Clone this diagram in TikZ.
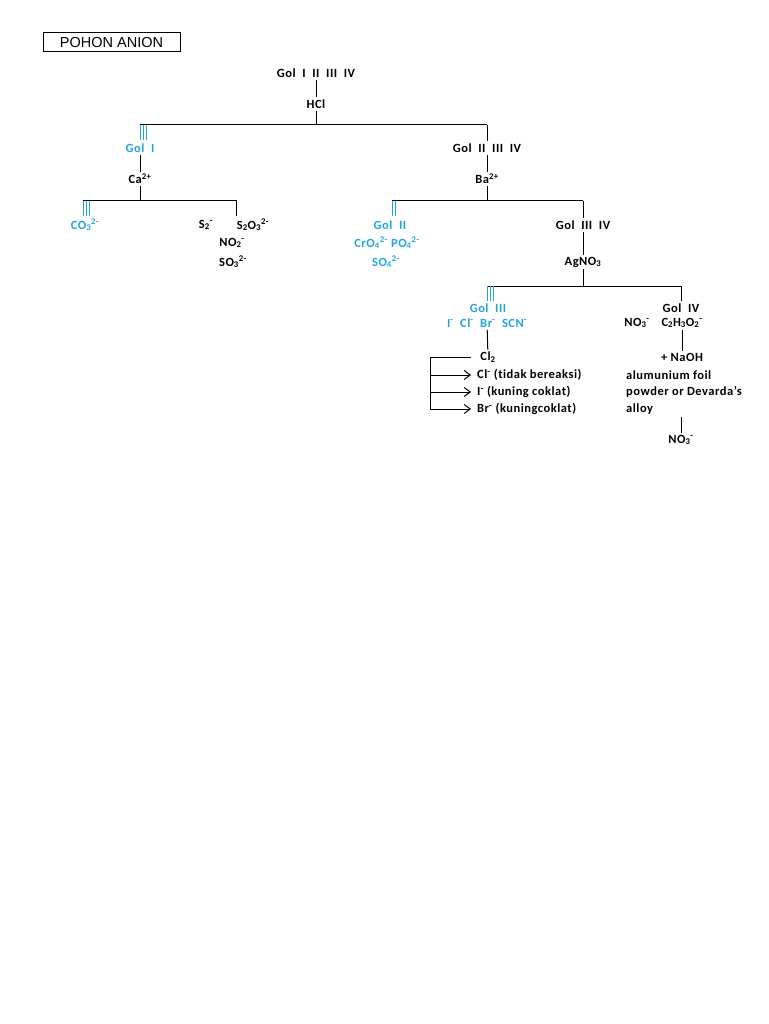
\documentclass[tikz,border=0pt]{standalone}
\usepackage{fontspec}
\setmainfont{Carlito}[Ligatures={NoCommon}, LetterSpace=4]
\newfontfamily\titlefont{Liberation Sans}
\usetikzlibrary{arrows.meta,positioning}
\definecolor{golblue}{RGB}{35,165,220}
\tikzset{
  lbl/.style={font=\bfseries\fontsize{12.5}{14}\selectfont, inner sep=2pt, text=black},
  gollbl/.style={lbl, text=golblue},
  titlebox/.style={draw=black, line width=1pt, minimum width=137pt, minimum height=19pt, inner sep=0pt, font=\titlefont\fontsize{14.5}{16}\selectfont},
  tree/.style={line width=1pt},
  bars/.style={line width=1pt, draw=golblue},
  resarrow/.style={-{Straight Barb[length=6pt,width=9pt]}, line width=1pt}
}

\begin{document}
\begin{tikzpicture}[x=1pt, y=-1pt]
\useasboundingbox (0,0) rectangle (768,1024);
\node[titlebox] (title) at (111.5,42.5) {POHON ANION};

% HCl
\node[lbl] (all) at (316,73) {Gol~~I~~II~~III~~IV};
\node[lbl] (hcl) at (316,104) {HCl};
\coordinate (jhcl) at (316,125);
\coordinate (bI) at (140,125);
\coordinate (bII) at (487,125);
\draw[tree] (all) -- (hcl);
\draw[tree] (hcl) -- (jhcl);
\draw[tree] (bI) -- (bII);

% Gol I
\foreach \dx in {0,3,6} \draw[bars] ([xshift=\dx pt]bI) -- ++(0,15);
\node[gollbl] (gol1) at (140,148) {Gol~~I};
\node[lbl] (ca) at (140,179) {Ca\textsuperscript{2+}};
\draw[tree] (gol1) -- (ca);
\coordinate (jca) at (140,201);
\coordinate (bco3) at (83,201);
\coordinate (bs) at (236,201);
\coordinate (bsend) at (236,216);
\draw[tree] (ca) -- (jca);
\draw[tree] (bco3) -- (bs) -- (bsend);
\foreach \dx in {0,3,6} \draw[bars] ([xshift=\dx pt]bco3) -- ++(0,15);
\node[gollbl] (co3) at (85,225) {CO\textsubscript{3}\textsuperscript{2-}};
\node[lbl] (s2) at (206,225) {S\textsubscript{2}\textsuperscript{-}};
\node[lbl] (s2o3) at (253,225) {S\textsubscript{2}O\textsubscript{3}\textsuperscript{2-}};
\node[lbl] (no2) at (232,243) {NO\textsubscript{2}\textsuperscript{-}};
\node[lbl] (so3) at (233,262) {SO\textsubscript{3}\textsuperscript{2-}};

% Gol II III IV
\node[lbl] (g234) at (487,148) {Gol~~II~~III~~IV};
\node[lbl] (ba) at (487,179) {Ba\textsuperscript{2+}};
\draw[tree] (bII) -- (g234);
\draw[tree] (g234) -- (ba);
\coordinate (jba) at (487,201);
\coordinate (bgII) at (392,201);
\coordinate (bg34) at (583,201);
\draw[tree] (ba) -- (jba);
\draw[tree] (bgII) -- (bg34);
\foreach \dx in {0,3.5} \draw[bars] ([xshift=\dx pt]bgII) -- ++(0,15);
\node[gollbl] (gol2) at (390,225) {Gol~~II};
\node[gollbl] (cro4) at (387,243) {CrO\textsubscript{4}\textsuperscript{2-} PO\textsubscript{4}\textsuperscript{2-}};
\node[gollbl] (so4) at (386,262) {SO\textsubscript{4}\textsuperscript{2-}};

% Gol III IV
\node[lbl] (g34) at (583,225) {Gol~~III~~IV};
\node[lbl] (agno3) at (583,262) {AgNO\textsubscript{3}};
\draw[tree] (bg34) -- (g34);
\draw[tree] (g34) -- (agno3);
\coordinate (jag) at (583,286);
\coordinate (bgIII) at (487,286);
\coordinate (bgIV) at (681,286);
\draw[tree] (agno3) -- (jag);
\draw[tree] (bgIII) -- (bgIV);
\foreach \dx in {0,3,6} \draw[bars] ([xshift=\dx pt]bgIII) -- ++(0,15);
\node[gollbl] (gol3) at (488,308) {Gol~~III};
\node[gollbl] (hal) at (487,323) {I\textsuperscript{-}~~Cl\textsuperscript{-}~~Br\textsuperscript{-}~~SCN\textsuperscript{-}};
\node[lbl] (gol4) at (681,308) {Gol~~IV};
\draw[tree] (bgIV) -- (gol4);
\node[lbl] (no3a) at (637,323) {NO\textsubscript{3}\textsuperscript{-}};
\node[lbl] (c2h3o2) at (682,323) {C\textsubscript{2}H\textsubscript{3}O\textsubscript{2}\textsuperscript{-}};

% Cl2
\node[lbl] (cl2) at (488,357) {Cl\textsubscript{2}};
\draw[tree] (hal) -- (cl2);
\node[lbl, anchor=west] (res1) at (475,375) {Cl\textsuperscript{-} (tidak bereaksi)};
\node[lbl, anchor=west] (res2) at (475,392) {I\textsuperscript{-} (kuning coklat)};
\node[lbl, anchor=west] (res3) at (475,409) {Br\textsuperscript{-} (kuningcoklat)};
\coordinate (brk) at (430,409);
\draw[tree] ([xshift=-7pt]cl2.west) -| (brk);
\draw[resarrow] (res1.west -| brk) -- ([xshift=-4pt]res1.west);
\draw[resarrow] (res2.west -| brk) -- ([xshift=-4pt]res2.west);
\draw[resarrow] (res3.west -| brk) -- ([xshift=-4pt]res3.west);

% NaOH
\node[lbl] (naoh) at (682,357) {+ NaOH};
\draw[tree] (c2h3o2) -- (naoh);
\node[lbl, anchor=west] (foil) at (624,375) {alumunium foil};
\node[lbl, anchor=west] (devarda) at (624,392) {powder or Devarda's};
\node[lbl, anchor=west] (alloy) at (624,409) {alloy};
\node[lbl] (no3b) at (681,440) {NO\textsubscript{3}\textsuperscript{-}};
\draw[tree] (alloy.south -| no3b) -- (no3b);
\end{tikzpicture}
\end{document}
